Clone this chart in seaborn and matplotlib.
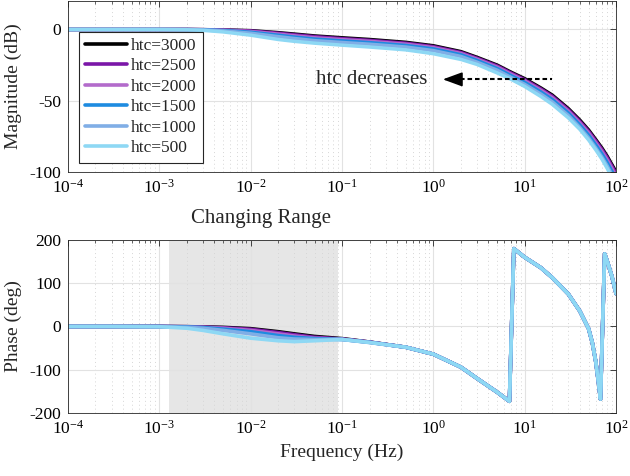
import numpy as np
import pandas as pd
import matplotlib
matplotlib.use("Agg")
import matplotlib.pyplot as plt
import seaborn as sns
from matplotlib.ticker import LogLocator, NullFormatter, FixedLocator

# ---------------- data ----------------
htc_labels = ["htc=3000", "htc=2500", "htc=2000", "htc=1500", "htc=1000", "htc=500"]
colors = ["#000000", "#7B16A8", "#B36BCB", "#1E8BE0", "#80AEE6", "#8ED8F4"]

freq_mag = [1e-4, 3e-4, 1e-3, 2e-3, 3e-3, 5e-3, 1e-2, 2e-2, 3e-2, 5e-2, 0.1, 0.2, 0.5,
            1, 2, 3, 5, 7, 10, 15, 20, 30, 40, 50, 60, 70, 80, 90, 100]

mag_3000 = [0, 0, 0, 0, -0.1, -0.3, -0.8, -2.2, -3.2, -4.5, -5.8, -7.0, -9.0,
            -11.4, -15.5, -19.5, -25.0, -29.8, -34.5, -41.0, -46.0, -55.5, -63.5, -70.5, -77.3, -83.2, -89.0, -94.8, -100.0]
mag_2500 = [0, 0, 0, 0, -0.1, -0.4, -1.0, -2.6, -3.7, -5.0, -6.4, -7.6, -9.6,
            -12.0, -16.1, -20.1, -25.6, -30.4, -35.2, -41.7, -46.8, -56.3, -64.4, -71.4, -78.2, -84.2, -90.0, -95.9, -101.2]
mag_2000 = [0, 0, 0, -0.05, -0.15, -0.5, -1.4, -3.2, -4.4, -5.8, -7.1, -8.3, -10.3,
            -12.7, -16.8, -20.8, -26.4, -31.2, -36.0, -42.6, -47.8, -57.3, -65.5, -72.6, -79.5, -85.6, -91.5, -97.5, -103.0]
mag_1500 = [0, 0, 0, -0.05, -0.2, -0.7, -1.9, -4.0, -5.3, -6.7, -8.0, -9.2, -11.2,
            -13.6, -17.7, -21.7, -27.4, -32.2, -37.1, -43.8, -49.1, -58.6, -66.9, -74.1, -81.1, -87.3, -93.4, -99.5, -105.2]
mag_1000 = [0, 0, 0, -0.1, -0.3, -1.0, -2.6, -5.0, -6.3, -7.8, -9.1, -10.3, -12.3,
            -14.8, -18.9, -22.9, -28.6, -33.5, -38.5, -45.3, -50.7, -60.3, -68.7, -76.1, -83.2, -89.6, -95.8, -102.0, -108.0]
mag_500 = [0, 0, 0, -0.2, -0.6, -1.7, -4.0, -7.0, -8.3, -9.6, -11.0, -12.3, -14.3,
           -17.0, -21.0, -24.5, -30.5, -34.8, -40.0, -47.0, -52.5, -62.0, -70.0, -77.5, -84.5, -91.0, -97.5, -104.0, -110.0]

freq_phase_low = [1e-4, 3e-4, 1e-3, 2e-3, 3e-3, 5e-3, 1e-2, 2e-2, 3e-2, 5e-2, 0.1, 0.2]
phase_3000_low = [0, 0, 0, -0.5, -1, -2, -5, -12, -17, -23, -28, -36]
phase_2500_low = [0, 0, 0, -0.5, -1.5, -3, -6.5, -14, -19, -25, -29, -36]
phase_2000_low = [0, 0, 0, -1, -2, -4, -9, -17, -22, -27, -29.5, -36.5]
phase_1500_low = [0, 0, 0, -1, -2.5, -6, -12, -21, -25, -28, -30, -36.5]
phase_1000_low = [0, 0, -0.5, -2, -4, -9, -17, -26, -29, -30, -30, -37]
phase_500_low = [0, 0, -0.5, -4, -9, -17, -27, -33, -35, -33, -30, -37]

freq_phase_tail = [0.5, 1, 2, 3, 5, 6.8, 7.6, 10, 15, 20, 30, 40, 50, 55, 60, 64, 67.5,
                   75, 80, 90, 100]
phase_tail = [-48, -64, -94, -120, -152, -173, 180, 160, 136, 113, 75, 36, -5, -38, -82, -128, -168,
              168, 151, 116, 76]

changing_range = [1.29e-3, 0.09]
decade_ticks = [1e-4, 1e-3, 1e-2, 1e-1, 1e0, 1e1, 1e2]

# ---------------- tables ----------------
mags = [mag_3000, mag_2500, mag_2000, mag_1500, mag_1000, mag_500]
phase_lows = [phase_3000_low, phase_2500_low, phase_2000_low, phase_1500_low, phase_1000_low, phase_500_low]

mag_df = pd.concat([pd.DataFrame({"f": freq_mag, "v": m, "htc": lab})
                    for m, lab in zip(mags, htc_labels)], ignore_index=True)
ph_df = pd.concat([pd.DataFrame({"f": freq_phase_low + freq_phase_tail,
                                 "v": p + phase_tail, "htc": lab})
                   for p, lab in zip(phase_lows, htc_labels)], ignore_index=True)

# ---------------- style ----------------
sns.set_theme(style="white")
plt.rcParams["font.family"] = ["Liberation Serif", "DejaVu Serif"]
plt.rcParams["mathtext.fontset"] = "stix"
plt.rcParams["axes.unicode_minus"] = False

pal = dict(zip(htc_labels, colors))
axcol = "#262626"

fig = plt.figure(figsize=(6.3, 4.76), dpi=100)
ax1 = fig.add_axes([0.1079, 0.6387, 0.8700, 0.3592])
ax2 = fig.add_axes([0.1079, 0.1324, 0.8700, 0.3634])

sns.lineplot(data=mag_df, x="f", y="v", hue="htc", hue_order=htc_labels, palette=pal,
             lw=2.5, ax=ax1, sort=True, estimator=None)
ax2.axvspan(changing_range[0], changing_range[1], color="#e6e6e6", zorder=0.2, lw=0)
sns.lineplot(data=ph_df, x="f", y="v", hue="htc", hue_order=htc_labels, palette=pal,
             lw=2.6, ax=ax2, sort=True, estimator=None, legend=False)

for ax in (ax1, ax2):
    ax.set_xscale("log")
    ax.set_xlim(1e-4, 1e2)
    ax.xaxis.set_major_locator(FixedLocator(decade_ticks))
    ax.xaxis.set_minor_locator(LogLocator(base=10, subs=np.arange(2, 10), numticks=100))
    ax.xaxis.set_minor_formatter(NullFormatter())
    ax.set_axisbelow(True)
    ax.grid(True, which="major", color="#e2e2e2", lw=0.8, ls="-")
    ax.grid(True, which="minor", axis="x", color="#d6d6d6", lw=0.7, ls=(0, (1, 3)))
    ax.tick_params(which="both", direction="in", top=True, right=True, colors=axcol,
                   labelsize=12.5, labelcolor="black")
    ax.tick_params(which="major", length=4, width=0.6, pad=5)
    ax.tick_params(which="minor", length=2.5, width=0.5)
    for s in ax.spines.values():
        s.set_color(axcol)
        s.set_linewidth(0.6)
    ax.set_xlabel("")

ax1.set_ylim(-100, 20)
ax1.yaxis.set_major_locator(FixedLocator([-100, -50, 0]))
ax2.set_ylim(-200, 200)
ax2.yaxis.set_major_locator(FixedLocator([-200, -100, 0, 100, 200]))

ax1.set_ylabel("Magnitude (dB)", fontsize=14, labelpad=5)
ax2.set_ylabel("Phase (deg)", fontsize=14, labelpad=5)
ax2.set_xlabel("Frequency (Hz)", fontsize=14)

handles, labels = ax1.get_legend_handles_labels()
for h in handles:
    h.set_linewidth(2.6)
leg = ax1.legend(handles, labels, loc="upper left", bbox_to_anchor=(0.02, 0.82),
                 borderaxespad=0, fontsize=12.5, frameon=True, fancybox=False,
                 edgecolor=axcol, framealpha=1, handlelength=2.4, handletextpad=0.25,
                 borderpad=0.35, labelspacing=0.25)
leg.get_frame().set_linewidth(0.8)

# annotation: htc decreases
ax1.plot([1.95, 20], [-35, -35], color="black", lw=1.5, ls=(0, (2.2, 1.4)), zorder=5)
ax1.annotate("", xy=(1.27, -35), xytext=(1.96, -35),
             arrowprops=dict(arrowstyle="-|>,head_length=0.6,head_width=0.22",
                             color="black", lw=1.2, mutation_scale=20, shrinkA=0, shrinkB=0),
             zorder=6)
ax1.text(0.87, -35, "htc decreases", ha="right", va="center", fontsize=15)

fig.text(0.414, 0.542, "Changing Range", ha="center", va="center", fontsize=15)

fig.savefig("out.png", dpi=100)
